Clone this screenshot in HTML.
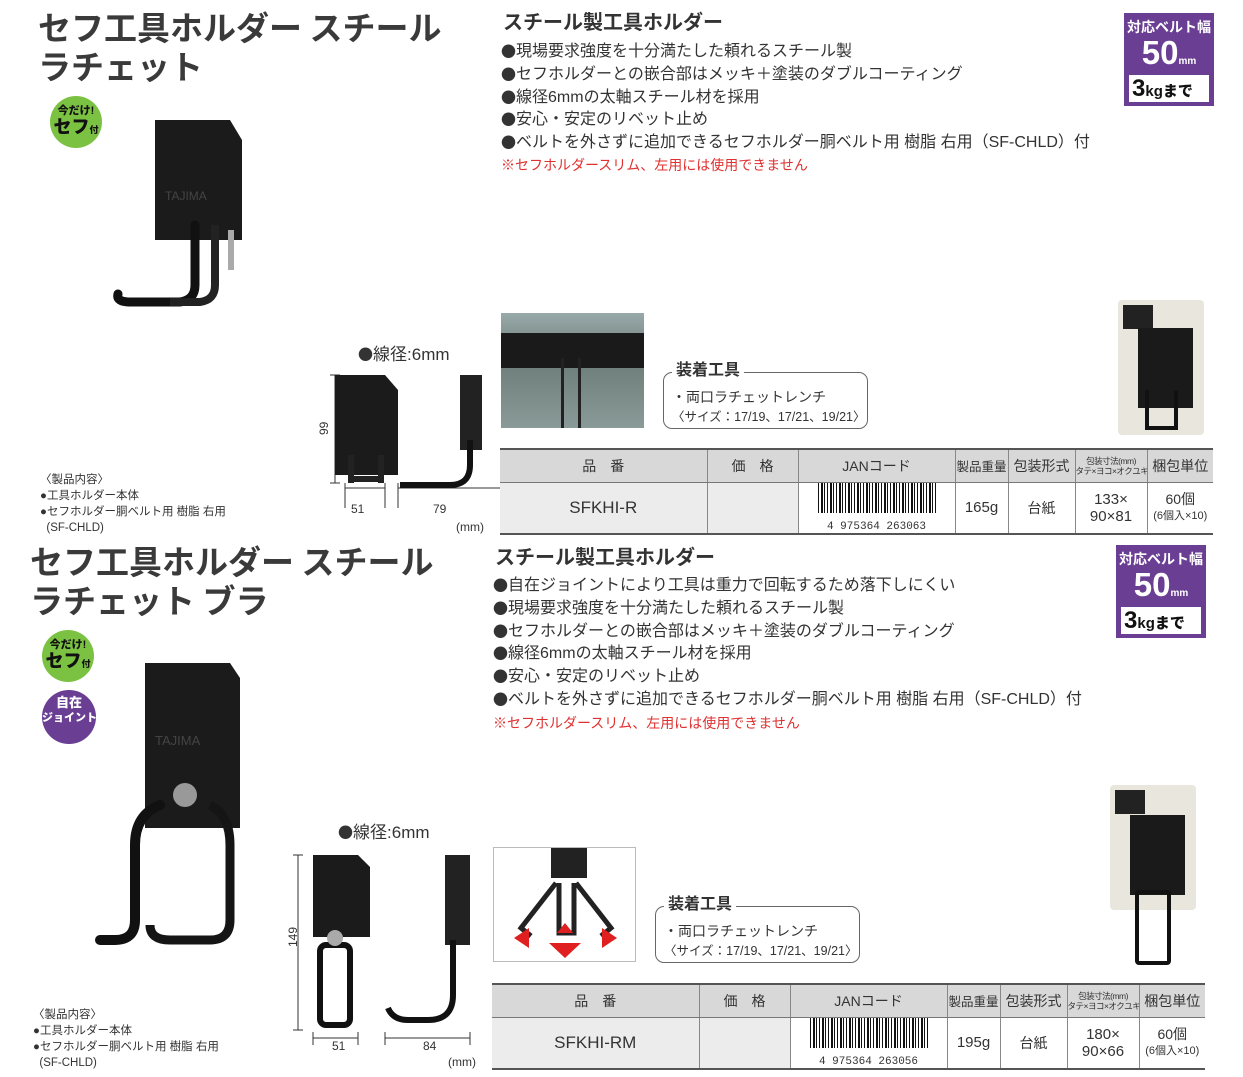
<!DOCTYPE html>
<html><head><meta charset="utf-8">
<style>
*{margin:0;padding:0;box-sizing:border-box}
body{width:1243px;height:1077px;background:#fff;position:relative;overflow:hidden;font-family:"Liberation Sans","Noto Sans CJK JP",sans-serif;color:#333}
.a{position:absolute;white-space:nowrap}
.title{font-size:33px;font-weight:bold;line-height:40px;color:#3a3a3a;font-family:"Noto Sans CJK JP",sans-serif}
.sub{font-size:20px;font-weight:bold;color:#333;font-family:"Noto Sans CJK JP",sans-serif}
.bul{font-size:16px;color:#333}
.bul div{height:22.8px;line-height:22.8px;overflow:visible}
.bul b{font-weight:normal;font-family:"Noto Sans CJK JP",sans-serif;font-size:15px;line-height:16px;display:inline-block;height:16px;vertical-align:-1px}
.red{font-size:14px;color:#e03030}
.badge{position:absolute;width:90px;height:93px;background:#6a3e93;color:#fff;text-align:center}
.badge .t1{font-size:14px;font-weight:bold;margin-top:5px;line-height:18px}
.badge .t2{font-size:33px;font-weight:900;line-height:34px}
.badge .t2 span{font-size:10px}
.badge .box{position:absolute;left:5px;top:62px;width:80px;height:27px;background:#fff;color:#111;font-weight:900;font-size:24px;line-height:27px;text-align:left;padding-left:3px}
.badge .box small{font-size:15px}
.gb{position:absolute;width:52px;height:52px;border-radius:50%;background:#7cc242;color:#111;text-align:center;font-weight:900}
.gb .s1{font-size:11px;margin-top:9px;line-height:12px}
.gb .s2{font-size:18px;line-height:20px}
table{position:absolute;border-collapse:collapse;font-size:14px;color:#333;table-layout:fixed}
td{text-align:center;border-left:1px solid #888;padding:0;overflow:hidden}
td:first-child{border-left:none}
tr.h td{background:#d8d8d8;height:33px;border-top:2px solid #555;border-bottom:1px solid #777}
tr.d td{height:49px;border-bottom:2px solid #555}
tr.d td.g{background:#ececec}
.bar{display:inline-block;width:118px;height:30px;background:repeating-linear-gradient(90deg,#111 0 1px,#fff 1px 3px,#111 3px 5px,#fff 5px 6px,#111 6px 7px,#fff 7px 9px)}
.tool{position:absolute;border:1.5px solid #666;border-radius:9px;width:205px;height:57px}
.tool .tt{position:absolute;left:8px;top:-12px;background:#fff;font-weight:bold;font-size:16px;padding:0 4px;line-height:20px}
.tool .l1{position:absolute;left:8px;top:14px;font-size:14px}
.tool .l2{position:absolute;left:8px;top:33px;font-size:12.5px}
.small{font-size:11.5px;line-height:16px;color:#333}
.pk{font-size:8.5px;line-height:10px;white-space:nowrap;letter-spacing:-0.5px}
</style></head><body>

<!-- SECTION 1 -->
<div class="a title" style="left:38px;top:6px">セフ工具ホルダー スチール</div>
<div class="a title" style="left:38px;top:45px">ラチェット</div>
<div class="gb" style="left:50px;top:96px"><div class="s1">今だけ!</div><div class="s2">セフ<small style="font-size:9px">付</small></div></div>
<svg class="a" style="left:110px;top:115px" width="140" height="205">
<path d="M45 5 h75 l12 20 v100 h-87z" fill="#1b1b1b"/>
<text x="55" y="85" font-size="12" fill="#444" font-family="Liberation Sans">TAJIMA</text>
<path d="M85 110 v60 q0 15 -15 17 h-50 q-14 0 -12 -8" stroke="#111" stroke-width="9" fill="none" stroke-linecap="round"/>
<path d="M105 110 v60 q0 15 -15 17 h-30" stroke="#222" stroke-width="8" fill="none"/>
<rect x="118" y="115" width="6" height="40" fill="#aaa"/>
</svg>
<div class="a sub" style="left:503px;top:6px">スチール製工具ホルダー</div>
<div class="a bul" style="left:501px;top:41px"><div><b>●</b>現場要求強度を十分満たした頼れるスチール製</div><div><b>●</b>セフホルダーとの嵌合部はメッキ＋塗装のダブルコーティング</div><div><b>●</b>線径6mmの太軸スチール材を採用</div><div><b>●</b>安心・安定のリベット止め</div><div><b>●</b>ベルトを外さずに追加できるセフホルダー胴ベルト用 樹脂 右用（SF-CHLD）付</div></div>
<div class="a red" style="left:501px;top:155px">※セフホルダースリム、左用には使用できません</div>
<div class="badge" style="left:1124px;top:13px"><div class="t1">対応ベルト幅</div><div class="t2">50<span>mm</span></div><div class="box">3<small>kgまで</small></div></div>

<div class="a" style="left:358px;top:340px;font-size:17px"><span style="font-family:'Noto Sans CJK JP';font-size:15px">●</span>線径:6mm</div>
<svg class="a" style="left:310px;top:370px" width="190" height="150">
<path d="M25 5v108M20 5h10M20 113h10M35 118h40M35 113v25M75 113v25M88 118h160M88 113v25M248 113v25" stroke="#333" fill="none"/>
<text x="13" y="70" font-size="12" fill="#333" transform="rotate(-90 13 65)">99</text>
<path d="M25 5 h50 l13 15 v85 h-63z" fill="#1b1b1b"/>
<rect x="38" y="85" width="6" height="28" fill="#222"/><rect x="68" y="85" width="6" height="28" fill="#222"/><rect x="38" y="106" width="36" height="6" fill="#222"/>
<rect x="150" y="5" width="22" height="75" fill="#222"/>
<path d="M160 70 v25 q0 20 -20 20 h-50" stroke="#111" stroke-width="6" fill="none"/>
</svg>
<div class="a" style="left:351px;top:502px;font-size:12px">51</div>
<div class="a" style="left:433px;top:502px;font-size:12px">79</div>
<div class="a" style="left:456px;top:520px;font-size:12px">(mm)</div>
<div class="a small" style="left:40px;top:472px">〈製品内容〉<br>●工具ホルダー本体<br>●セフホルダー胴ベルト用 樹脂 右用<br>&nbsp;&nbsp;(SF-CHLD)</div>

<div class="a" style="left:501px;top:313px;width:143px;height:115px;background:linear-gradient(#9aa 0,#6c7c78 40%,#8a9a98 100%);overflow:hidden">
<div style="position:absolute;left:0;top:20px;width:143px;height:35px;background:#1a1a1a"></div>
<div style="position:absolute;left:60px;top:45px;width:20px;height:70px;border-left:3px solid #222;border-right:3px solid #222"></div></div>
<div class="tool" style="left:663px;top:372px"><div class="tt">装着工具</div><div class="l1">・両口ラチェットレンチ</div><div class="l2">〈サイズ：17/19、17/21、19/21〉</div></div>
<div class="a" style="left:1118px;top:300px;width:86px;height:135px;background:#e8e6dd;border-radius:4px"></div>
<div class="a" style="left:1123px;top:305px;width:30px;height:24px;background:#222"></div>
<div class="a" style="left:1138px;top:328px;width:55px;height:80px;background:#1a1a1a"></div>
<div class="a" style="left:1145px;top:390px;width:33px;height:40px;border:4px solid #111;border-top:none"></div>

<table style="left:500px;top:448px;width:713px">
<colgroup><col style="width:207px"><col style="width:91px"><col style="width:157px"><col style="width:53px"><col style="width:67px"><col style="width:72px"><col></colgroup>
<tr class="h"><td>品　番</td><td>価　格</td><td>JANコード</td><td style="font-size:12.5px">製品重量</td><td>包装形式</td><td><div class="pk">包装寸法(mm)</div><div class="pk">タテ×ヨコ×オクユキ</div></td><td>梱包単位</td></tr>
<tr class="d"><td class="g" style="font-size:17px">SFKHI-R</td><td class="g"></td><td><span class="bar"></span><br><span style="font-size:11px;font-family:'Liberation Mono',monospace">4 975364 263063</span></td><td style="font-size:15px">165g</td><td>台紙</td><td style="font-size:15px;line-height:17px">133×<br>90×81</td><td style="font-size:14px;line-height:15px">60個<br><span style="font-size:11px">(6個入×10)</span></td></tr>
</table>

<!-- SECTION 2 -->
<div class="a title" style="left:30px;top:540px">セフ工具ホルダー スチール</div>
<div class="a title" style="left:30px;top:579px">ラチェット ブラ</div>
<div class="gb" style="left:42px;top:630px"><div class="s1">今だけ!</div><div class="s2">セフ<small style="font-size:9px">付</small></div></div>
<div class="a" style="left:42px;top:690px;width:54px;height:54px;border-radius:50%;background:#6a3e93;color:#fff;text-align:center;font-weight:900;font-size:13px;line-height:14px;padding-top:6px">自在<br><span style="font-size:11px">ジョイント</span></div>
<svg class="a" style="left:85px;top:655px" width="170" height="305">
<path d="M60 8 h85 l10 15 v150 h-95z" fill="#1b1b1b"/>
<text x="70" y="90" font-size="13" fill="#444" font-family="Liberation Sans">TAJIMA</text>
<circle cx="100" cy="140" r="12" fill="#999"/>
<path d="M75 150 q-25 10 -25 40 v75 q0 20 -20 20 h-15" stroke="#111" stroke-width="10" fill="none" stroke-linecap="round"/>
<path d="M125 150 q20 10 20 40 v75 q0 20 -20 20 h-40 q-20 0 -20 -15" stroke="#151515" stroke-width="9" fill="none"/>
</svg>
<div class="a sub" style="left:495px;top:541px">スチール製工具ホルダー</div>
<div class="a bul" style="left:493px;top:575px"><div><b>●</b>自在ジョイントにより工具は重力で回転するため落下しにくい</div><div><b>●</b>現場要求強度を十分満たした頼れるスチール製</div><div><b>●</b>セフホルダーとの嵌合部はメッキ＋塗装のダブルコーティング</div><div><b>●</b>線径6mmの太軸スチール材を採用</div><div><b>●</b>安心・安定のリベット止め</div><div><b>●</b>ベルトを外さずに追加できるセフホルダー胴ベルト用 樹脂 右用（SF-CHLD）付</div></div>
<div class="a red" style="left:493px;top:713px">※セフホルダースリム、左用には使用できません</div>
<div class="badge" style="left:1116px;top:545px"><div class="t1">対応ベルト幅</div><div class="t2">50<span>mm</span></div><div class="box">3<small>kgまで</small></div></div>

<div class="a" style="left:338px;top:818px;font-size:17px"><span style="font-family:'Noto Sans CJK JP';font-size:15px">●</span>線径:6mm</div>
<svg class="a" style="left:285px;top:850px" width="200" height="195">
<path d="M13 5v175M8 5h10M8 180h10M28 188h45M28 182v15M73 182v15M100 188h85M100 182v15M185 182v15" stroke="#333" fill="none"/>
<text x="5" y="100" font-size="12" fill="#333" transform="rotate(-90 7 95)">149</text>
<path d="M28 5 h45 l12 12 v70 h-57z" fill="#1b1b1b"/>
<rect x="35" y="95" width="30" height="80" rx="6" fill="none" stroke="#111" stroke-width="6"/>
<circle cx="50" cy="88" r="8" fill="#aaa"/>
<rect x="160" y="5" width="25" height="90" fill="#222"/>
<path d="M168 90 v55 q0 25 -25 25 h-20 q-15 0 -20 -12" stroke="#111" stroke-width="6" fill="none"/>
</svg>
<div class="a" style="left:332px;top:1039px;font-size:12px">51</div>
<div class="a" style="left:423px;top:1039px;font-size:12px">84</div>
<div class="a" style="left:448px;top:1055px;font-size:12px">(mm)</div>
<div class="a small" style="left:33px;top:1007px">〈製品内容〉<br>●工具ホルダー本体<br>●セフホルダー胴ベルト用 樹脂 右用<br>&nbsp;&nbsp;(SF-CHLD)</div>

<div class="a" style="left:493px;top:847px;width:143px;height:115px;border:1px solid #bbb;overflow:hidden">
<div style="position:absolute;left:57px;top:0;width:36px;height:30px;background:#222"></div>
<svg width="143" height="115" style="position:absolute;left:0;top:0"><path d="M62 35 l-35 45 l10 8 M82 35 l35 45 l-10 8 M65 35 v50 h15 v-50" stroke="#222" stroke-width="5" fill="none"/>
<path d="M20 90 l15 -10 v20z M123 90 l-15 -10 v20z M55 95 h32 l-16 15z M63 85 l8 -10 l8 10z" fill="#e02020"/></svg></div>
<div class="tool" style="left:655px;top:906px"><div class="tt">装着工具</div><div class="l1">・両口ラチェットレンチ</div><div class="l2">〈サイズ：17/19、17/21、19/21〉</div></div>
<div class="a" style="left:1110px;top:785px;width:86px;height:125px;background:#e8e6dd;border-radius:4px"></div>
<div class="a" style="left:1115px;top:790px;width:30px;height:24px;background:#222"></div>
<div class="a" style="left:1130px;top:815px;width:55px;height:80px;background:#1a1a1a"></div>
<div class="a" style="left:1135px;top:890px;width:36px;height:75px;border:4px solid #111;border-radius:4px"></div>

<table style="left:492px;top:983px;width:713px">
<colgroup><col style="width:207px"><col style="width:91px"><col style="width:157px"><col style="width:53px"><col style="width:67px"><col style="width:72px"><col></colgroup>
<tr class="h"><td>品　番</td><td>価　格</td><td>JANコード</td><td style="font-size:12.5px">製品重量</td><td>包装形式</td><td><div class="pk">包装寸法(mm)</div><div class="pk">タテ×ヨコ×オクユキ</div></td><td>梱包単位</td></tr>
<tr class="d"><td class="g" style="font-size:17px">SFKHI-RM</td><td class="g"></td><td><span class="bar"></span><br><span style="font-size:11px;font-family:'Liberation Mono',monospace">4 975364 263056</span></td><td style="font-size:15px">195g</td><td>台紙</td><td style="font-size:15px;line-height:17px">180×<br>90×66</td><td style="font-size:14px;line-height:15px">60個<br><span style="font-size:11px">(6個入×10)</span></td></tr>
</table>
</body></html>
